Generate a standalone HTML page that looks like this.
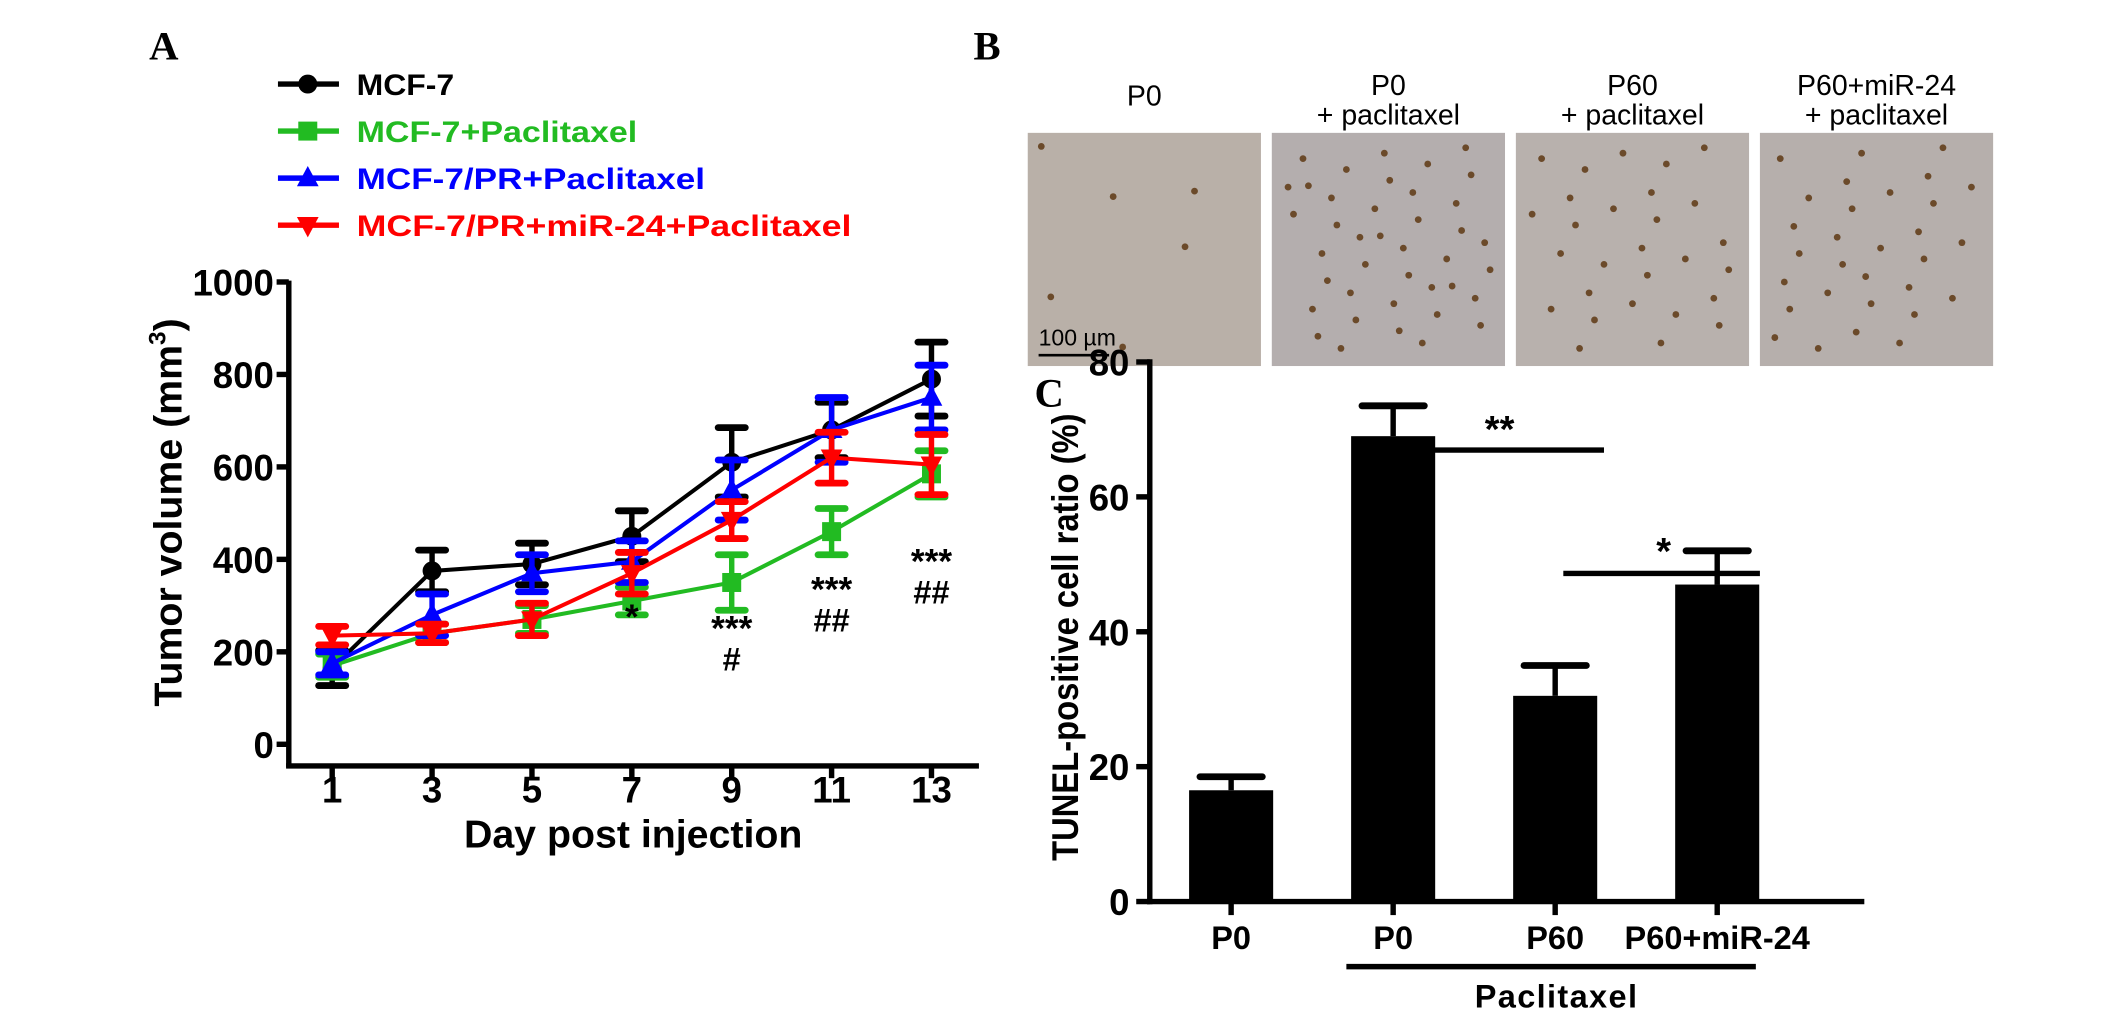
<!DOCTYPE html>
<html><head><meta charset="utf-8"><style>
html,body{margin:0;padding:0;background:#fff;}
svg{display:block;font-family:"Liberation Sans",Arial,sans-serif;}
</style></head><body>
<svg id="fig" width="2126" height="1010" viewBox="0 0 1568 745" preserveAspectRatio="none" xmlns="http://www.w3.org/2000/svg">
<g id="panelA"></g>
<g id="panelB"></g>
<g id="panelC"></g>
</svg>
<script>
// ---- Panel A data ----
const days = [1,3,5,7,9,11,13];
const seriesNames = ["MCF-7","MCF-7+Paclitaxel","MCF-7/PR+Paclitaxel","MCF-7/PR+miR-24+Paclitaxel"];
const seriesColors = ["#000000","#22bb22","#0000ff","#ff0000"];
const mcf7 = [165,375,390,450,610,680,790];
const mcf7Err = [38,45,45,55,75,60,80];
const mcf7Pac = [170,240,270,310,350,460,585];
const mcf7PacErr = [25,20,30,30,60,50,50];
const prPac = [175,280,370,395,550,680,750];
const prPacErr = [25,45,40,45,65,70,70];
const prMirPac = [235,240,270,370,485,620,605];
const prMirPacErr = [20,20,35,45,40,55,65];
const yTicksA = [0,200,400,600,800,1000];
const annotDays = [7,9,11,13];
const annotStar = ["*","***","***","***"];
const annotHash = ["","#","##","##"];
const annotVal = [290,265,350,410];

// ---- Panel C data ----
const cCats = ["P0","P0","P60","P60+miR-24"];
const cVals = [16.5,69,30.5,47];
const cErr = [2,4.5,4.5,5];
const yTicksC = [0,20,40,60,80];

const NS="http://www.w3.org/2000/svg";
function mk(parent,tag,attrs,text){const e=document.createElementNS(NS,tag);for(const k in attrs)e.setAttribute(k,attrs[k]);if(text!==undefined)e.textContent=text;parent.appendChild(e);return e;}

// ===== Panel A =====
const A=document.getElementById('panelA');
const ax=v=>245+(v-1)*(687-245)/12;
const ay=v=>549-v*(549-208)/1000;
let t=mk(A,'text',{x:110,y:44,'font-family':'Liberation Serif,serif','font-weight':'bold','font-size':30},'A');


let l=mk(A,'line',{x1:213,y1:207,x2:213,y2:566,stroke:'#000','stroke-width':4});


l=mk(A,'line',{x1:211,y1:565,x2:722,y2:565,stroke:'#000','stroke-width':4});


yTicksA.forEach(v=>{
  mk(A,'line',{x1:204,y1:ay(v),x2:213,y2:ay(v),stroke:'#000','stroke-width':4});
  const tt=mk(A,'text',{x:202,y:ay(v)+10,'text-anchor':'end','font-weight':'bold','font-size':27},v);
  
  
});
days.forEach(d=>{
  mk(A,'line',{x1:ax(d),y1:565,x2:ax(d),y2:574,stroke:'#000','stroke-width':4});
  const tt=mk(A,'text',{x:ax(d),y:592,'text-anchor':'middle','font-weight':'bold','font-size':27},d);
  
  
});
t=mk(A,'text',{x:467,y:625,'text-anchor':'middle','font-weight':'bold','font-size':29},'Day post injection');


t=mk(A,'text',{transform:'translate(134,378) rotate(-90)','text-anchor':'middle','font-weight':'bold','font-size':29});


mk(t,'tspan',{},'Tumor volume (mm');mk(t,'tspan',{'font-size':18,dy:-12},'3');mk(t,'tspan',{dy:12},')');

const vals=[mcf7,mcf7Pac,prPac,prMirPac], errs=[mcf7Err,mcf7PacErr,prPacErr,prMirPacErr];
function marker(g,i,x,y,c){
  if(i===0) return mk(g,'circle',{cx:x,cy:y,r:7,fill:c});
  if(i===1) return mk(g,'rect',{x:x-7,y:y-7,width:14,height:14,fill:c});
  if(i===2) return mk(g,'polygon',{points:`${x},${y-9} ${x-8},${y+6} ${x+8},${y+6}`,fill:c});
  return mk(g,'polygon',{points:`${x},${y+9} ${x-8},${y-6} ${x+8},${y-6}`,fill:c});
}
vals.forEach((arr,i)=>{
  const c=seriesColors[i];
  const g=mk(A,'g',{});
  
  
  mk(g,'polyline',{points:arr.map((v,j)=>ax(days[j])+','+ay(v)).join(' '),fill:'none',stroke:c,'stroke-width':3});
  arr.forEach((v,j)=>{
    const x=ax(days[j]),e=errs[i][j];
    mk(g,'line',{x1:x,y1:ay(v-e),x2:x,y2:ay(v+e),stroke:c,'stroke-width':4});
    mk(g,'line',{x1:x-10,y1:ay(v+e),x2:x+10,y2:ay(v+e),stroke:c,'stroke-width':5,'stroke-linecap':'round'});
    mk(g,'line',{x1:x-10,y1:ay(v-e),x2:x+10,y2:ay(v-e),stroke:c,'stroke-width':5,'stroke-linecap':'round'});
    const m=marker(g,i,x,ay(v),c);
    
    
  });
});
annotDays.forEach((d,k)=>{
  const y=ay(annotVal[k]);
  let s=mk(A,'text',{x:ax(d),y:y+14,'text-anchor':'middle','font-weight':'bold','font-size':26},annotStar[k]);
  
  
  if(annotHash[k]){s=mk(A,'text',{x:ax(d),y:y+36,'text-anchor':'middle','font-weight':'bold','font-size':24},annotHash[k]);
  
  }
});
const legendLen=[72,207,257,365];
seriesNames.forEach((n,i)=>{
  const y=62+i*34.7,c=seriesColors[i];
  const g=mk(A,'g',{});
  
  
  mk(g,'line',{x1:205,y1:y,x2:250,y2:y,stroke:c,'stroke-width':4});
  marker(g,i,227,y,c);
  mk(g,'text',{x:263,y:y+8,'font-weight':'bold','font-size':22,fill:c,textLength:legendLen[i],lengthAdjust:'spacingAndGlyphs'},n);
});

// ===== Panel B =====
const B=document.getElementById('panelB');
t=mk(B,'text',{x:718,y:44,'font-family':'Liberation Serif,serif','font-weight':'bold','font-size':30},'B');


const bTitles=[["P0"],["P0","+ paclitaxel"],["P60","+ paclitaxel"],["P60+miR-24","+ paclitaxel"]];
const bBg=["#b9b0a8","#b4aeae","#b8b1ad","#b6afac"];
bTitles.forEach((tl,i)=>{
  const x=758+i*180;
  const g=mk(B,'g',{});
  
  
  mk(g,'rect',{x:x,y:98,width:172,height:172,fill:bBg[i]});
  const n=[6,40,28,30][i];
  for(let k=0;k<n;k++){const px=x+10+((k*53+i*17)%152),py=108+((k*37+i*29)%152);mk(g,'circle',{cx:px,cy:py,r:2.5,fill:'#6b4a2a'});}
  tl.forEach((s,j)=>{
    const tt=mk(B,'text',{x:x+86,y:(tl.length===1?78:70)+j*22,'text-anchor':'middle','font-size':21},s);
    
    
  });
});
mk(B,'line',{x1:766,y1:262,x2:818,y2:262,stroke:'#000','stroke-width':2});
t=mk(B,'text',{x:766,y:255,'font-size':17},'100 µm');



// ===== Panel C =====
const C=document.getElementById('panelC');
const cy=v=>665-v*(665-267)/80;
const cx=i=>908+i*119.5;
t=mk(C,'text',{x:763,y:300,'font-family':'Liberation Serif,serif','font-weight':'bold','font-size':30},'C');


l=mk(C,'line',{x1:848,y1:265,x2:848,y2:667,stroke:'#000','stroke-width':4});


l=mk(C,'line',{x1:846,y1:665,x2:1375,y2:665,stroke:'#000','stroke-width':4});


yTicksC.forEach(v=>{
  mk(C,'line',{x1:838,y1:cy(v),x2:848,y2:cy(v),stroke:'#000','stroke-width':4});
  const tt=mk(C,'text',{x:833,y:cy(v)+10,'text-anchor':'end','font-weight':'bold','font-size':27},v);
  
  
});
cVals.forEach((v,i)=>{
  const x=cx(i);
  const r=mk(C,'rect',{x:x-31,y:cy(v),width:62,height:665-cy(v),fill:'#000'});
  
  
  mk(C,'line',{x1:x,y1:cy(v),x2:x,y2:cy(v+cErr[i]),stroke:'#000','stroke-width':4});
  mk(C,'line',{x1:x-23,y1:cy(v+cErr[i]),x2:x+23,y2:cy(v+cErr[i]),stroke:'#000','stroke-width':5,'stroke-linecap':'round'});
  mk(C,'line',{x1:x,y1:665,x2:x,y2:675,stroke:'#000','stroke-width':4});
  const tt=mk(C,'text',{x:x,y:700,'text-anchor':'middle','font-weight':'bold','font-size':24},cCats[i]);
  
  
});
t=mk(C,'text',{transform:'translate(795,470) rotate(-90)','text-anchor':'middle','font-weight':'bold','font-size':27,textLength:330,lengthAdjust:'spacingAndGlyphs'},'TUNEL-positive cell ratio (%)');


mk(C,'line',{x1:993,y1:713,x2:1295,y2:713,stroke:'#000','stroke-width':4});
t=mk(C,'text',{x:1148,y:743,'text-anchor':'middle','font-weight':'bold','font-size':24,'letter-spacing':1},'Paclitaxel');


mk(C,'line',{x1:1026,y1:332,x2:1183,y2:332,stroke:'#000','stroke-width':4});
t=mk(C,'text',{x:1106,y:326,'text-anchor':'middle','font-weight':'bold','font-size':28},'**');


mk(C,'line',{x1:1153,y1:423,x2:1298,y2:423,stroke:'#000','stroke-width':4});
t=mk(C,'text',{x:1227,y:416,'text-anchor':'middle','font-weight':'bold','font-size':28},'*');


</script>
</body></html>
